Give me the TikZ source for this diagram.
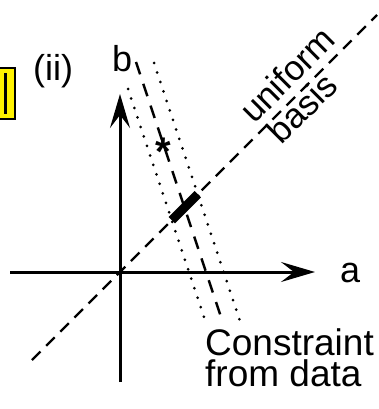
\documentclass[tikz,border=0pt]{standalone}
\usepackage{fontspec}
\setmainfont{Liberation Sans}
\usetikzlibrary{arrows.meta}
\begin{document}
\begin{tikzpicture}[x=1pt,y=-1pt,
  axis/.style={line width=3pt,-{Stealth[length=34pt,width=20pt,inset=13pt]}},
  lbl/.style={font=\fontsize{36}{40}\selectfont,inner sep=0pt},
  txt/.style={font=\fontsize{37}{40}\selectfont,inner sep=0pt},
  rlbl/.style={font=\fontsize{35}{40}\selectfont,inner sep=0pt,rotate=45,anchor=base},
  basisline/.style={line width=2.4pt,dash pattern=on 12pt off 8pt},
  constraint/.style={line width=2.4pt,dash pattern=on 13pt off 10pt},
  bound/.style={line width=3pt,line cap=round,dash pattern=on 0pt off 10pt},
  estimate/.style={line width=9pt}]
\useasboundingbox (0,0) rectangle (378,409);
% yellow box (cropped)
\node[draw=black,line width=2pt,fill=yellow,minimum width=24pt,minimum height=50pt,inner sep=0pt] (ybox) at (3,93.5) {};
\fill[black] (4,73) rectangle (6.5,114);
% axes
\coordinate (O) at (120,272);
\coordinate (xs) at (10,272);
\coordinate (xe) at (315,272);
\coordinate (ys) at (120,382);
\coordinate (ye) at (120,94);
\draw[axis] (xs) -- (xe);
\draw[axis] (ys) -- (ye);
\node[lbl,anchor=base west] (a) at (340,282) {a};
\node[lbl,anchor=base west] (b) at (112,72) {b};
\node[lbl,anchor=base west] (ii) at (33,81) {(ii)};
% uniform basis line
\coordinate (d1) at (32,360);
\coordinate (d2) at (377,15);
\draw[basisline] (d1) -- (d2);
\node[rlbl] (uni) at (295.7,83.6) {uniform};
\node[rlbl] (bas) at (310.6,116.8) {basis};
% constraint lines
\coordinate (c1) at (136,62);
\coordinate (c2) at (223,323);
\coordinate (l1) at (128,89);
\coordinate (l2) at (205,320);
\coordinate (r1) at (154,63);
\coordinate (r2) at (240,321);
\draw[constraint] (c1) -- (c2);
\draw[bound] (l1) -- (l2);
\draw[bound] (r1) -- (r2);
% estimate
\coordinate (e1) at (171.75,220.25);
\coordinate (e2) at (197.75,194.25);
\draw[estimate] (e1) -- (e2);
\node[font=\fontsize{40}{44}\selectfont\bfseries,inner sep=0pt,anchor=base] (star) at (163,165.5) {*};
\node[txt,anchor=base west] (con) at (205,355) {Constraint};
\node[txt,anchor=base west] (fro) at (205,386) {from data};
\end{tikzpicture}
\end{document}
